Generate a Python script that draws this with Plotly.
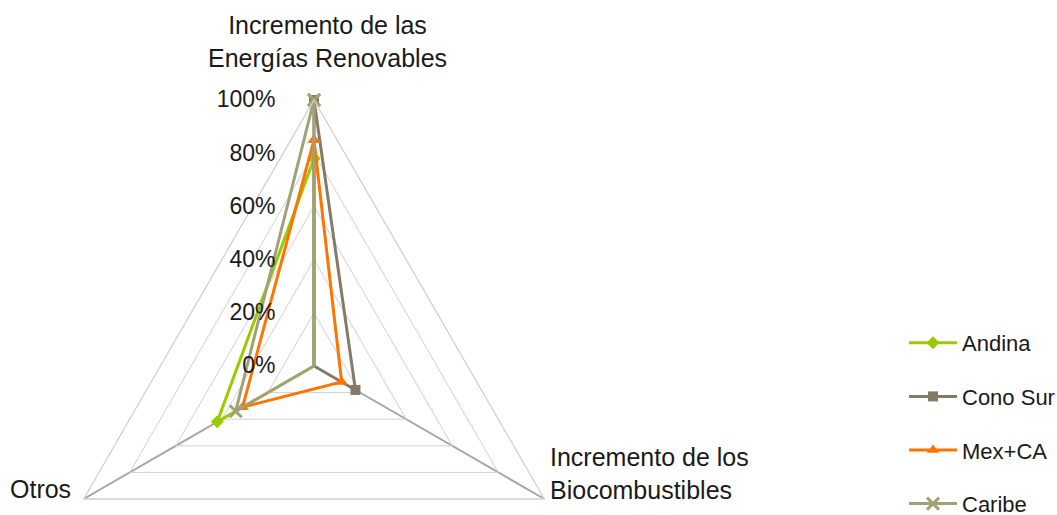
import plotly.graph_objects as go

categories = ["Incremento de las<br>Energías Renovables",
              "Incremento de los<br>Biocombustibles",
              "Otros"]
series_names = ["Andina", "Cono Sur", "Mex+CA", "Caribe"]
andina = [0.78, 0.0, 0.42]
cono_sur = [1.0, 0.18, 0.0]
mex_ca = [0.85, 0.12, 0.31]
caribe = [1.0, 0.0, 0.34]
radial_ticks = [0, 0.2, 0.4, 0.6, 0.8, 1.0]
radial_tick_labels = ["0%", "20%", "40%", "60%", "80%", "100%"]

values = [andina, cono_sur, mex_ca, caribe]
colors = ["#99cc00", "#857a67", "#ff7300", "#a0a276"]
symbols = ["diamond", "square", "triangle-up", "x-thin"]
msizes = [10, 10, 11, 12]

W, H = 1057, 640
FONT = "Liberation Sans"
TXT = "#1a1a1a"

fig = go.Figure()
for name, vals, col, sym, ms in zip(series_names, values, colors, symbols, msizes):
    r = list(vals) + [vals[0]]
    th = list(categories) + [categories[0]]
    marker = dict(symbol=sym, size=ms, color=col)
    if sym == "x-thin":
        marker["line"] = dict(color=col, width=3)
    fig.add_trace(go.Scatterpolar(
        r=r, theta=th, mode="lines+markers", name=name,
        line=dict(color=col, width=3), marker=marker,
        legendgroup=name, cliponaxis=False,
    ))

# category labels placed beside the polygon vertices
label_pos = [
    dict(x=327, y=41, xanchor="center", align="center"),
    dict(x=548, y=473, xanchor="left", align="left"),
    dict(x=73, y=489, xanchor="right", align="right"),
]
for cat, p in zip(categories, label_pos):
    fig.add_annotation(
        text=cat, xref="paper", yref="paper",
        x=p["x"] / W, y=1 - p["y"] / H,
        xanchor=p["xanchor"], yanchor="middle", align=p["align"],
        showarrow=False, font=dict(size=25, family=FONT, color=TXT),
    )

cx, cy, R = 314, 366, 266
fig.update_layout(
    width=W, height=H,
    margin=dict(l=0, r=0, t=0, b=0, autoexpand=False),
    paper_bgcolor="white",
    font=dict(family=FONT, color=TXT),
    showlegend=True,
    legend=dict(
        x=904 / W, y=1 - 322 / H, xanchor="left", yanchor="top",
        font=dict(size=22, family=FONT, color=TXT),
        tracegroupgap=22, itemwidth=48, bgcolor="rgba(0,0,0,0)",
    ),
    polar=dict(
        domain=dict(x=[(cx - R) / W, (cx + R) / W],
                    y=[1 - (cy + R) / H, 1 - (cy - R) / H]),
        gridshape="linear",
        bgcolor="white",
        radialaxis=dict(
            range=[0, 1], tickvals=radial_ticks, ticktext=radial_tick_labels,
            angle=90, side="counterclockwise", showline=False,
            gridcolor="#d0d0d0", gridwidth=1.3,
            ticks="outside", ticklen=30, tickcolor="rgba(0,0,0,0)",
            tickfont=dict(size=23, family=FONT, color=TXT),
            tickangle=90,
        ),
        angularaxis=dict(
            rotation=90, direction="clockwise",
            showline=True, linecolor="#d0d0d0", linewidth=1.3,
            gridcolor="#a6a6a6", gridwidth=1.5,
            ticks="", showticklabels=False,
        ),
    ),
)

fig.write_html("out.html")
